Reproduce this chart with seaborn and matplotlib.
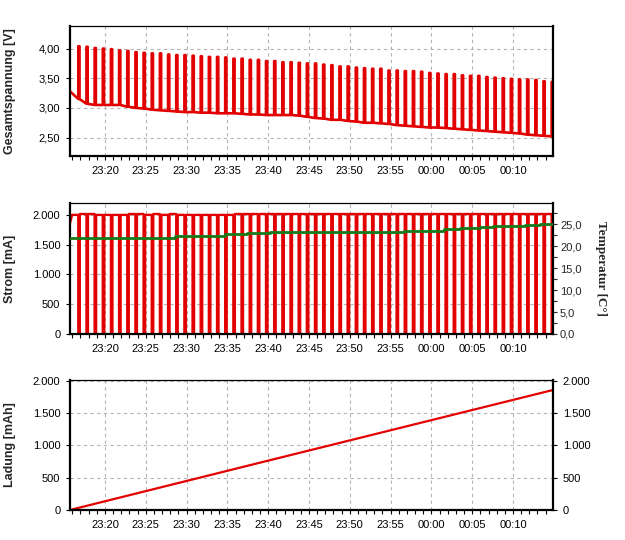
import pandas as pd
import matplotlib
matplotlib.use("Agg")
import matplotlib.pyplot as plt
import matplotlib.dates as mdates
from matplotlib.ticker import FuncFormatter, MultipleLocator
import seaborn as sns

# zeitraum der messung
t_start = pd.Timestamp("2000-01-01 23:15:43")
t_end = pd.Timestamp("2000-01-02 00:14:54")
first_pulse = pd.Timestamp("2000-01-01 23:16:44")
n_pulses = 59

# spannung: spitzen bei stromunterbrechung und grundlinie davor
peak_v = [4.04, 4.03, 4.01, 4.00, 3.99, 3.97, 3.96, 3.94, 3.93, 3.92,
          3.92, 3.90, 3.89, 3.89, 3.88, 3.87, 3.86, 3.86, 3.85, 3.83,
          3.83, 3.81, 3.81, 3.79, 3.79, 3.77, 3.77, 3.76, 3.75, 3.75,
          3.73, 3.72, 3.70, 3.70, 3.68, 3.67, 3.66, 3.66, 3.63, 3.63,
          3.62, 3.62, 3.61, 3.59, 3.58, 3.57, 3.57, 3.55, 3.54, 3.54,
          3.52, 3.51, 3.50, 3.49, 3.48, 3.48, 3.47, 3.45, 3.44]
base_v = [3.15, 3.07, 3.05, 3.05, 3.05, 3.05, 3.02, 3.00, 2.99, 2.97,
          2.96, 2.95, 2.94, 2.93, 2.93, 2.92, 2.92, 2.91, 2.91, 2.91,
          2.90, 2.89, 2.89, 2.88, 2.88, 2.88, 2.88, 2.87, 2.85, 2.83,
          2.82, 2.80, 2.80, 2.78, 2.77, 2.75, 2.75, 2.74, 2.73, 2.71,
          2.70, 2.69, 2.68, 2.67, 2.67, 2.66, 2.65, 2.64, 2.63, 2.62,
          2.61, 2.60, 2.59, 2.58, 2.57, 2.55, 2.54, 2.53, 2.52]
v_first = 3.28
v_last = 2.51

# strom: niveau je abschnitt (vor dem ersten und nach jeder unterbrechung)
current_first = 1860
current_ma = [2000, 2015, 2015, 2000, 2000, 2000, 2000, 2015, 2015, 2000,
              2015, 2000, 2015, 2000, 2000, 2000, 2000, 2000, 2000, 2000,
              2015, 2015, 2015, 2015, 2015, 2015, 2015, 2015, 2015, 2015,
              2015, 2015, 2015, 2015, 2015, 2015, 2015, 2015, 2015, 2015,
              2015, 2015, 2015, 2015, 2015, 2015, 2015, 2015, 2015, 2015,
              2015, 2015, 2015, 2015, 2015, 2015, 2015, 2015, 2015, 2015]

# temperatur (stufen)
temp_time = ["23:15:43", "23:28:36", "23:31:36", "23:34:42", "23:37:24",
             "23:40:12", "23:52:00", "23:56:36", "00:01:30", "00:03:30",
             "00:06:00", "00:07:36", "00:11:30", "00:13:18", "00:14:54"]
temp_c = [21.9, 22.2, 22.4, 22.7, 23.0, 23.2, 23.3, 23.5, 23.8, 24.1,
          24.4, 24.6, 24.9, 25.1, 25.1]

# ladung
charge_time = ["23:15:43", "23:40:00", "00:14:54"]
charge_mah = [0, 765, 1860]


def clock(s):
    day = "2000-01-01 " if s >= "12" else "2000-01-02 "
    return pd.Timestamp(day + s)


pulses = pd.date_range(first_pulse, periods=n_pulses, freq="1min")
w_v = pd.Timedelta(seconds=9)
w_i = pd.Timedelta(seconds=11)

vt, vv = [t_start], [v_first]
for t, b, p in zip(pulses, base_v, peak_v):
    vt += [t, t, t + w_v, t + w_v]
    vv += [b, p, p, b]
vt.append(t_end)
vv.append(v_last)
volt = pd.DataFrame({"t": vt, "v": vv})

it, iv = [t_start, t_start + pd.Timedelta(seconds=15)], [current_first, current_ma[0]]
for k, t in enumerate(pulses):
    it += [t, t, t + w_i, t + w_i]
    iv += [current_ma[k], 0, 0, current_ma[k + 1]]
it.append(t_end)
iv.append(current_ma[-1])
strom = pd.DataFrame({"t": it, "i": iv})

temp = pd.DataFrame({"t": [clock(s) for s in temp_time], "c": temp_c})
ladung = pd.DataFrame({"t": [clock(s) for s in charge_time], "q": charge_mah})

sns.set_style("white")
plt.rcParams['font.family'] = ['Liberation Sans', 'DejaVu Sans']
plt.rcParams['font.size'] = 8

red = "#e30000"
green = "#177a17"

fig = plt.figure(figsize=(6.25, 5.4), dpi=100)
left, width = 0.112, 0.7728
ax1 = fig.add_axes([left, 0.7111, width, 0.2407])
ax2 = fig.add_axes([left, 0.3815, width, 0.2426])
ax3 = fig.add_axes([left, 0.0556, width, 0.2407])


def komma(fmt):
    return FuncFormatter(lambda x, pos: (fmt % x).replace(".", ","))


tausend = FuncFormatter(lambda x, pos: f"{x:,.0f}".replace(",", "."))


def style(ax):
    ax.set_xlim(t_start, t_end)
    ax.xaxis.set_major_locator(mdates.MinuteLocator(byminute=range(0, 60, 5)))
    ax.xaxis.set_minor_locator(mdates.MinuteLocator())
    ax.xaxis.set_major_formatter(mdates.DateFormatter("%H:%M"))
    ax.tick_params(which="both", direction="out", length=3, width=0.8, labelsize=8,
                   colors="black", pad=4)
    ax.tick_params(axis="x", which="both", bottom=True)
    ax.tick_params(axis="y", which="both", left=True)
    ax.grid(True, which="major", color="#b4b4b4", linestyle=(0, (3, 3)), linewidth=0.8)
    for s in ["left", "bottom", "right"]:
        ax.spines[s].set_linewidth(1.6)
        ax.spines[s].set_color("black")
    ax.spines["top"].set_linewidth(0.9)
    ax.spines["top"].set_color("black")
    ax.set_xlabel("")


# oben: gesamtspannung
sns.lineplot(data=volt, x="t", y="v", ax=ax1, color=red, linewidth=1.9,
             sort=False, estimator=None)
style(ax1)
ax1.set_ylim(2.19, 4.38)
ax1.yaxis.set_major_locator(MultipleLocator(0.5))
ax1.yaxis.set_major_formatter(komma("%.2f"))
ax1.set_ylabel("Gesamtspannung [V]", fontsize=9, fontweight="bold")
ax1.yaxis.set_label_coords(-0.112, 0.5)

# mitte: strom und temperatur
sns.lineplot(data=strom, x="t", y="i", ax=ax2, color=red, linewidth=1.7,
             sort=False, estimator=None)
style(ax2)
ax2.set_ylim(0, 2200)
ax2.yaxis.set_major_locator(MultipleLocator(500))
ax2.yaxis.set_major_formatter(tausend)
ax2.set_ylabel("Strom [mA]", fontsize=9, fontweight="bold")
ax2.yaxis.set_label_coords(-0.112, 0.5)

ax2r = ax2.twinx()
sns.lineplot(data=temp, x="t", y="c", ax=ax2r, color=green, linewidth=2.0,
             drawstyle="steps-post", estimator=None)
ax2r.set_xlim(t_start, t_end)
ax2r.set_ylim(0, 29.8)
ax2r.yaxis.set_major_locator(MultipleLocator(5))
ax2r.yaxis.set_minor_locator(MultipleLocator(2.5))
ax2r.yaxis.set_major_formatter(komma("%.1f"))
ax2r.tick_params(which="both", direction="out", length=3, width=0.8, labelsize=8, pad=2)
ax2r.grid(False)
for s in ax2r.spines.values():
    s.set_visible(False)
ax2r.set_ylabel("Temperatur [C°]", fontsize=9.5, fontweight="bold", rotation=270,
                family=["Liberation Serif", "DejaVu Serif"])
ax2r.yaxis.set_label_coords(1.112, 0.5)

# unten: ladung
sns.lineplot(data=ladung, x="t", y="q", ax=ax3, color=red, linewidth=1.6,
             sort=False, estimator=None)
style(ax3)
ax3.set_ylim(0, 2015)
ax3.yaxis.set_major_locator(MultipleLocator(500))
ax3.yaxis.set_major_formatter(tausend)
ax3.tick_params(axis="y", which="both", right=True, labelright=True)
ax3.set_ylabel("Ladung [mAh]", fontsize=9, fontweight="bold")
ax3.yaxis.set_label_coords(-0.112, 0.5)

fig.savefig("out.png", dpi=100, facecolor="white")
